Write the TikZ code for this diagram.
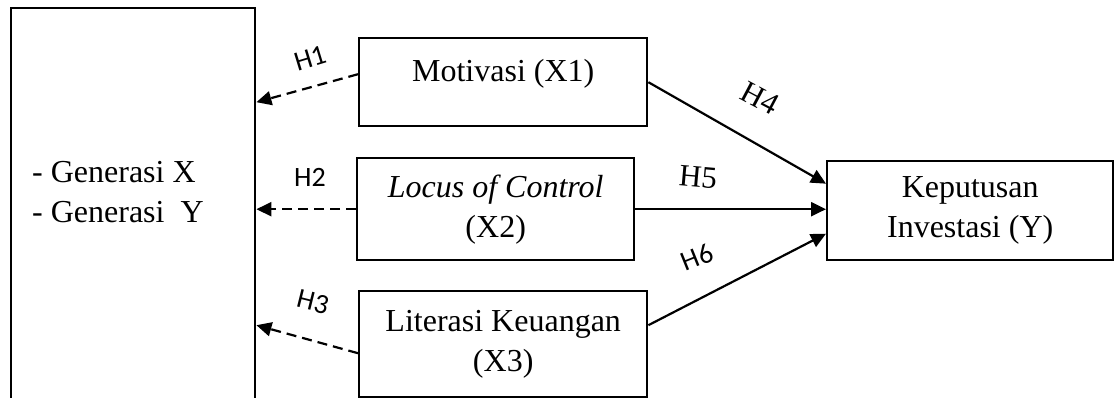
\documentclass[tikz,border=0pt]{standalone}
\usepackage{fontspec}
\setmainfont{Liberation Serif}
\newfontfamily\hypfont{Carlito}
\usetikzlibrary{calc}
\usetikzlibrary{arrows.meta}

\begin{document}
\begin{tikzpicture}[x=1pt, y=-1pt,
  box/.style={draw, line width=2.4pt, align=center, inner sep=0pt, font=\fontsize{32}{40}\selectfont},
  dasharrow/.style={line width=2.2pt, dash pattern=on 10pt off 6pt, -{Triangle[length=15pt,width=14pt]}},
  fullarrow/.style={line width=2.2pt, -{Triangle[length=15pt,width=14pt]}},
  hsans/.style={font=\hypfont\fontsize{28}{32}\selectfont, inner sep=0pt},
  hserif/.style={font=\fontsize{31}{36}\selectfont, inner sep=0pt}]

\path[use as bounding box, clip] (0,0) rectangle (1115,398);

% left box runs past the bottom edge
\node[box, anchor=north west, minimum width=244pt, minimum height=430pt] (gen) at (10,7) {};
\node[anchor=west, align=left, inner sep=0pt, font=\fontsize{32}{40}\selectfont] (genlist) at (32,192) {- Generasi X\\- Generasi\ \ Y};

\node[box, anchor=north west, minimum width=288pt, minimum height=88pt, text depth=24pt] (mot) at (358,37) {Motivasi (X1)};
\node[box, anchor=north west, minimum width=277pt, minimum height=102pt] (loc) at (356,157) {\textit{Locus of Control}\\(X2)};
\node[box, anchor=north west, minimum width=288pt, minimum height=106pt] (lit) at (358,290) {Literasi Keuangan\\(X3)};
\node[box, anchor=north west, minimum width=286pt, minimum height=99pt] (kep) at (826,160) {Keputusan\\Investasi (Y)};

\draw[dasharrow] ($(mot.west)+(0,-8)$) -- ($(mot.west -| gen.east)+(0,20)$);
\draw[dasharrow] (loc.west) -- (loc.west -| gen.east);
\draw[dasharrow] ($(lit.west)+(0,9)$) -- ($(lit.west -| gen.east)+(0,-19)$);

\draw[fullarrow] (mot.east) -- ($(kep.west)+(0,-27)$);
\draw[fullarrow] (loc.east) -- (loc.east -| kep.west);
\draw[fullarrow] ($(lit.east)+(0,-19)$) -- ($(kep.west)+(0,23)$);

\node[hsans, rotate=17] (h1) at (310,58) {H1};
\node[hsans] (h2) at (310,177) {H2};
\node[hsans, rotate=-14] (h3) at (313,302) {H3};
\node[hserif, rotate=-28] (h4) at (760,98) {H4};
\node[hserif, rotate=-5] (h5) at (698,177) {H5};
\node[hsans, rotate=22] (h6) at (697,257) {H6};

\end{tikzpicture}
\end{document}
